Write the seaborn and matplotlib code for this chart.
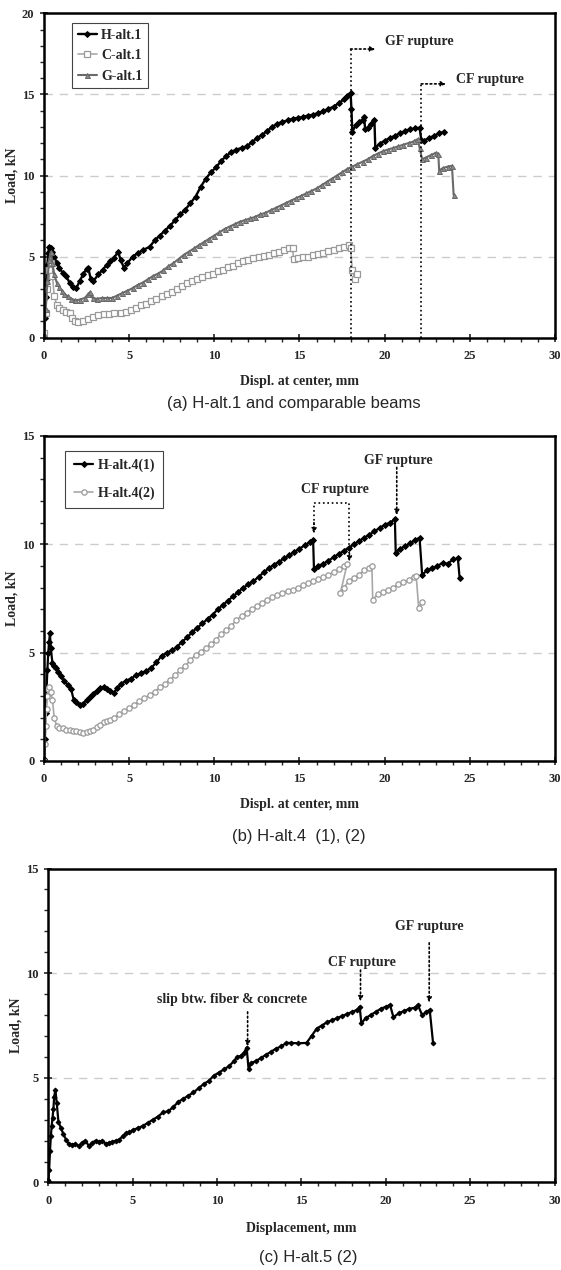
import matplotlib
matplotlib.use("Agg")
import matplotlib.pyplot as plt
from matplotlib.ticker import MultipleLocator
import seaborn as sns

# ---- data ----

# (a) H-alt.1 and comparable beams
ha1_x = [0, 0.05, 0.1, 0.15, 0.2, 0.25, 0.3, 0.4, 0.5, 0.6, 0.75, 0.9, 1.1, 1.3, 1.5, 1.7, 1.9,
         2.1, 2.3, 2.5, 2.6, 2.75, 2.9, 3.2, 3.45, 3.7, 3.9, 4.1, 4.35, 4.5, 4.7, 4.9, 5.2, 5.5,
         5.8, 6.2, 6.5, 6.8, 7.1, 7.4, 7.7, 8.0, 8.3, 8.6, 8.9, 9.2, 9.5, 9.8, 10.1, 10.4, 10.7,
         11.0, 11.3, 11.6, 11.9, 12.2, 12.5, 12.8, 13.1, 13.4, 13.7, 14.0, 14.3, 14.6, 14.9, 15.2,
         15.5, 15.8, 16.1, 16.4, 16.7, 17.0, 17.3, 17.6, 17.8, 18.0, 18.05, 18.1, 18.3, 18.5, 18.7,
         18.8, 18.85, 19.0, 19.2, 19.4, 19.45, 19.7, 20.0, 20.3, 20.6, 20.9, 21.2, 21.5, 21.8,
         22.05, 22.15, 22.3, 22.6, 22.9, 23.2, 23.5]
ha1_y = [0.3, 1.2, 2.5, 3.6, 4.5, 5.2, 5.6, 5.5, 5.3, 5.0, 4.6, 4.3, 4.0, 3.8, 3.4, 3.1, 3.05,
         3.5, 3.9, 4.25, 4.3, 3.6, 3.5, 3.9, 4.2, 4.5, 4.7, 4.9, 5.3, 4.8, 4.3, 4.6, 5.0, 5.2,
         5.4, 5.6, 6.0, 6.3, 6.6, 6.9, 7.25, 7.6, 7.9, 8.3, 8.7, 9.3, 9.8, 10.2, 10.5, 10.9, 11.2,
         11.45, 11.6, 11.7, 11.8, 12.05, 12.3, 12.5, 12.75, 13.0, 13.2, 13.3, 13.4, 13.5, 13.55, 13.6,
         13.7, 13.75, 13.85, 13.95, 14.1, 14.25, 14.45, 14.7, 14.9, 15.1, 14.1, 12.7, 13.1, 13.3, 13.45,
         13.6, 12.85, 12.95, 13.2, 13.4, 11.7, 11.95, 12.15, 12.3, 12.45, 12.6, 12.75, 12.85, 12.9,
         12.95, 12.2, 12.15, 12.3, 12.45, 12.6, 12.7]

ca1_x = [0, 0.1, 0.2, 0.3, 0.4, 0.5, 0.6, 0.75, 0.9, 1.1, 1.3, 1.5, 1.65, 1.8, 2.0, 2.3, 2.6, 2.9,
         3.2, 3.5, 3.8, 4.1, 4.5, 4.8, 5.1, 5.4, 5.7, 6.0, 6.3, 6.6, 6.9, 7.2, 7.5, 7.8, 8.1, 8.4,
         8.7, 9.0, 9.3, 9.6, 9.9, 10.2, 10.5, 10.8, 11.1, 11.4, 11.7, 12.0, 12.3, 12.6, 12.9, 13.2,
         13.5, 13.8, 14.1, 14.4, 14.6, 14.65, 14.9, 15.2, 15.5, 15.8, 16.1, 16.4, 16.7, 17.0, 17.3,
         17.6, 17.9, 18.0, 18.1, 18.25, 18.35]
ca1_y = [0.3, 1.5, 3.0, 4.2, 4.6, 3.8, 2.6, 2.0, 1.85, 1.7, 1.6, 1.55, 1.2, 1.05, 0.95, 1.05, 1.15, 1.3,
         1.4, 1.45, 1.45, 1.5, 1.55, 1.6, 1.7, 1.85, 2.0, 2.1, 2.25, 2.4, 2.55, 2.7, 2.8, 3.0, 3.2, 3.35,
         3.5, 3.6, 3.75, 3.85, 3.95, 4.1, 4.2, 4.35, 4.45, 4.6, 4.7, 4.8, 4.9, 5.0, 5.05, 5.1,
         5.2, 5.3, 5.4, 5.5, 5.55, 4.85, 4.9, 4.95, 5.0, 5.1, 5.15, 5.25, 5.35, 5.4, 5.5,
         5.6, 5.7, 5.5, 4.2, 3.6, 3.9]

ga1_x = [0, 0.1, 0.2, 0.3, 0.4, 0.5, 0.6, 0.75, 0.9, 1.05, 1.2, 1.4, 1.6, 1.85, 2.1, 2.4, 2.6, 2.7,
         2.85, 3.1, 3.4, 3.7, 4.0, 4.3, 4.6, 4.9, 5.2, 5.5, 5.8, 6.1, 6.4, 6.7, 7.0, 7.3, 7.6, 7.9,
         8.2, 8.5, 8.8, 9.1, 9.4, 9.7, 10.0, 10.3, 10.6, 10.9, 11.2, 11.5, 11.8, 12.1, 12.4, 12.7,
         13.0, 13.3, 13.6, 13.9, 14.2, 14.5, 14.8, 15.1, 15.4, 15.7, 16.0, 16.3, 16.6, 16.9, 17.2,
         17.5, 17.8, 18.1, 18.4, 18.7, 19.0, 19.3, 19.6, 19.9, 20.2, 20.5, 20.8, 21.1, 21.4, 21.7,
         21.95, 22.05, 22.2, 22.4, 22.7, 23.0, 23.15, 23.2, 23.4, 23.7, 23.95, 24.05]
ga1_y = [0.2, 1.8, 3.5, 4.8, 5.3, 4.6, 3.9, 3.4, 3.1, 2.9, 2.7, 2.55, 2.4, 2.3, 2.35, 2.45, 2.7, 2.8,
         2.45, 2.4, 2.45, 2.45, 2.45, 2.6, 2.75, 2.9, 3.05, 3.25, 3.4, 3.6, 3.8, 3.95, 4.15, 4.4, 4.6, 4.85,
         5.1, 5.3, 5.5, 5.7, 5.9, 6.1, 6.3, 6.5, 6.7, 6.85, 7.0, 7.15, 7.25, 7.35, 7.45, 7.6,
         7.7, 7.85, 8.0, 8.15, 8.3, 8.45, 8.6, 8.75, 8.9, 9.05, 9.2, 9.4, 9.6, 9.8, 10.0,
         10.2, 10.4, 10.55, 10.7, 10.85, 11.0, 11.2, 11.35, 11.5, 11.6, 11.7, 11.8, 11.9, 12.0, 12.1,
         12.25, 11.7, 11.0, 11.1, 11.25, 11.4, 11.3, 10.3, 10.45, 10.55, 10.6, 8.8]

# (b) H-alt.4 (1), (2)
h41_x = [0, 0.05, 0.1, 0.15, 0.2, 0.25, 0.3, 0.35, 0.4, 0.5, 0.6, 0.7, 0.85, 1.0, 1.2, 1.4, 1.6,
         1.75, 1.9, 2.1, 2.3, 2.5, 2.7, 2.9, 3.1, 3.3, 3.5, 3.7, 3.9, 4.1, 4.3, 4.5, 4.8, 5.1, 5.4,
         5.7, 6.0, 6.3, 6.6, 6.9, 7.2, 7.5, 7.8, 8.1, 8.4, 8.7, 9.0, 9.3, 9.6, 9.9, 10.2, 10.5,
         10.8, 11.1, 11.4, 11.7, 12.0, 12.3, 12.6, 12.9, 13.2, 13.5, 13.8, 14.1, 14.4, 14.7, 15.0,
         15.3, 15.6, 15.8, 15.85, 16.1, 16.4, 16.7, 17.0, 17.3, 17.6, 17.9, 18.2, 18.5, 18.8, 19.1,
         19.4, 19.7, 20.0, 20.3, 20.6, 20.65, 20.9, 21.2, 21.5, 21.8, 22.05, 22.2, 22.5, 22.8,
         23.1, 23.4, 23.7, 24.0, 24.3, 24.4]
h41_y = [0.1, 1.0, 2.2, 3.3, 4.2, 5.0, 5.5, 5.9, 5.2, 4.5, 4.4, 4.3, 4.1, 3.9, 3.7, 3.5, 3.3,
         2.8, 2.7, 2.6, 2.65, 2.8, 2.95, 3.1, 3.25, 3.35, 3.4, 3.3, 3.25, 3.15, 3.35, 3.55, 3.7, 3.8, 3.95,
         4.05, 4.15, 4.3, 4.55, 4.85, 5.0, 5.1, 5.25, 5.5, 5.7, 5.95, 6.15, 6.35, 6.55, 6.75, 7.0, 7.2,
         7.4, 7.6, 7.8, 8.0, 8.15, 8.3, 8.5, 8.7, 8.9, 9.05, 9.2, 9.35, 9.5, 9.65, 9.8,
         9.95, 10.1, 10.2, 8.85, 9.0, 9.1, 9.25, 9.4, 9.55, 9.7, 9.85, 10.0, 10.15, 10.3, 10.45,
         10.6, 10.75, 10.9, 11.0, 11.15, 9.6, 9.8, 9.9, 10.05, 10.2, 10.3, 8.6, 8.8, 8.9,
         9.0, 9.15, 9.1, 9.3, 9.35, 8.45]

h42_x = [0, 0.05, 0.1, 0.15, 0.2, 0.25, 0.3, 0.4, 0.5, 0.6, 0.75, 0.9, 1.1, 1.3, 1.5, 1.7, 1.9,
         2.1, 2.3, 2.5, 2.7, 2.9, 3.1, 3.3, 3.5, 3.7, 3.9, 4.1, 4.4, 4.7, 5.0, 5.3, 5.6, 5.9, 6.2,
         6.5, 6.8, 7.1, 7.4, 7.7, 8.0, 8.3, 8.6, 8.9, 9.2, 9.5, 9.8, 10.1, 10.4, 10.7, 11.0, 11.3,
         11.6, 11.9, 12.2, 12.5, 12.8, 13.1, 13.4, 13.7, 14.0, 14.3, 14.6, 14.9, 15.2, 15.5, 15.8,
         16.1, 16.4, 16.7, 17.0, 17.3, 17.6, 17.8, 17.4, 17.6, 17.9, 18.2, 18.5, 18.8, 19.1, 19.25,
         19.3, 19.6, 19.9, 20.2, 20.5, 20.8, 21.1, 21.4, 21.7, 21.85, 22.0, 22.2]
h42_y = [0.0, 0.8, 1.6, 2.4, 3.0, 3.3, 3.4, 3.2, 2.8, 2.0, 1.6, 1.5, 1.5, 1.45, 1.45, 1.4, 1.4,
         1.35, 1.3, 1.35, 1.4, 1.45, 1.55, 1.65, 1.8, 1.85, 1.9, 2.0, 2.15, 2.3, 2.45, 2.6, 2.75, 2.9, 3.05,
         3.2, 3.4, 3.55, 3.75, 3.95, 4.2, 4.4, 4.65, 4.9, 5.05, 5.2, 5.4, 5.6, 5.85, 6.05, 6.25, 6.5,
         6.7, 6.85, 7.0, 7.15, 7.3, 7.45, 7.55, 7.65, 7.75, 7.85, 7.9, 8.0, 8.1, 8.2, 8.3,
         8.4, 8.5, 8.6, 8.7, 8.85, 9.0, 9.1, 7.75, 8.0, 8.3, 8.45, 8.6, 8.8, 8.9, 9.0,
         7.45, 7.7, 7.8, 7.9, 8.0, 8.15, 8.25, 8.35, 8.5, 8.55, 7.05, 7.35]

# (c) H-alt.5 (2)
h52_x = [0, 0.05, 0.1, 0.15, 0.2, 0.25, 0.3, 0.35, 0.42, 0.5, 0.6, 0.75, 0.9, 1.05, 1.2, 1.4, 1.6,
         1.8, 2.0, 2.2, 2.4, 2.6, 2.8, 3.0, 3.2, 3.4, 3.6, 3.8, 4.0, 4.2, 4.4, 4.6, 4.8, 5.0, 5.3,
         5.6, 5.9, 6.2, 6.5, 6.8, 7.1, 7.4, 7.7, 8.0, 8.3, 8.6, 8.9, 9.2, 9.5, 9.8, 10.1, 10.4,
         10.7, 11.0, 11.2, 11.4, 11.6, 11.75, 11.87, 12.0, 12.3, 12.6, 12.9, 13.2, 13.5, 13.8, 14.1,
         14.4, 14.8, 15.3, 15.6, 15.9, 16.2, 16.5, 16.8, 17.1, 17.4, 17.7, 18.0, 18.3, 18.45, 18.55,
         18.8, 19.1, 19.4, 19.7, 20.0, 20.25, 20.45, 20.8, 21.1, 21.4, 21.7, 21.9, 22.15, 22.4,
         22.6, 22.8]
h52_y = [0.1, 0.6, 1.5, 2.2, 2.7, 3.1, 3.5, 4.1, 4.43, 3.8, 2.9, 2.6, 2.3, 2.05, 1.85, 1.8, 1.85,
         1.75, 1.9, 2.0, 1.75, 1.9, 2.0, 1.95, 2.0, 1.85, 1.9, 1.95, 2.0, 2.05, 2.2, 2.35, 2.4, 2.5, 2.6,
         2.7, 2.85, 3.0, 3.15, 3.35, 3.4, 3.6, 3.85, 4.0, 4.15, 4.3, 4.5, 4.7, 4.85, 5.1, 5.25, 5.4,
         5.55, 5.8, 6.0, 6.05, 6.2, 6.45, 5.4, 5.7, 5.8, 5.95, 6.1, 6.25, 6.4, 6.5, 6.67,
         6.67, 6.65, 6.67, 7.0, 7.35, 7.5, 7.65, 7.75, 7.85, 7.95, 8.05, 8.15, 8.25, 8.4, 7.6,
         7.85, 8.0, 8.15, 8.3, 8.4, 8.48, 7.9, 8.1, 8.2, 8.3, 8.35, 8.48, 8.0, 8.15,
         8.25, 6.65]


sns.set_style("ticks")
plt.rcParams['font.family'] = ['Liberation Serif', 'DejaVu Serif']
plt.rcParams['font.weight'] = 'bold'
plt.rcParams['axes.labelweight'] = 'bold'

fig = plt.figure(figsize=(5.61, 12.7), dpi=100)
ax_a = fig.add_axes([0.0784, 0.7341, 0.9109, 0.2554])
ax_b = fig.add_axes([0.0784, 0.4008, 0.9109, 0.2559])
ax_c = fig.add_axes([0.0861, 0.0689, 0.9025, 0.2472])

DOT = dict(color='black', linestyle=':', linewidth=1.2)


def style_axes(ax, ymax, xlabel):
    ax.set_xlim(0, 30)
    ax.set_ylim(0, ymax)
    ax.xaxis.set_major_locator(MultipleLocator(5))
    ax.xaxis.set_minor_locator(MultipleLocator(1))
    ax.yaxis.set_major_locator(MultipleLocator(5))
    ax.yaxis.set_minor_locator(MultipleLocator(1))
    ax.tick_params(which='major', direction='inout', length=6, width=1.2, labelsize=9, pad=6)
    ax.tick_params(axis='y', which='major', pad=4)
    ax.tick_params(which='minor', direction='out', length=3, width=1.0)
    for s in ax.spines.values():
        s.set_linewidth(1.8)
        s.set_color('black')
    ax.yaxis.grid(True, which='major', color='#cccccc', linestyle=(0, (6, 5)), linewidth=1.0)
    ax.set_axisbelow(True)
    ax.set_xlabel(xlabel, fontsize=10)
    ax.set_ylabel("Load, kN", fontsize=10)
    ax.xaxis.set_label_coords(0.5, -0.115)
    ax.yaxis.set_label_coords(-0.05, 0.5)


def arrow_down(ax, x, y0, y1):
    # dotted vertical arrow pointing down to a curve
    ax.annotate("", xy=(x, y1), xytext=(x, y0),
                arrowprops=dict(arrowstyle='-|>', linestyle=':', color='black',
                                lw=1.2, mutation_scale=7, shrinkA=0, shrinkB=0))


# ---------------- (a) ----------------
ax = ax_a
sns.lineplot(x=ha1_x, y=ha1_y, ax=ax, sort=False, estimator=None, color='black', lw=1.7,
             marker='D', markersize=3.0, markeredgecolor='black', label='H-alt.1')
sns.lineplot(x=ca1_x, y=ca1_y, ax=ax, sort=False, estimator=None, color='#a8a8a8', lw=1.2,
             marker='s', markersize=3.8, markerfacecolor='white', markeredgecolor='#999999',
             markeredgewidth=0.9, label='C-alt.1')
sns.lineplot(x=ga1_x, y=ga1_y, ax=ax, sort=False, estimator=None, color='#6a6a6a', lw=1.5,
             marker='^', markersize=3.6, markerfacecolor='#8a8a8a', markeredgecolor='#666666',
             markeredgewidth=0.7, label='G-alt.1')
style_axes(ax, 20, "Displ. at center, mm")

# GF rupture bracket
ax.plot([18.0, 18.0], [0, 17.8], **DOT)
ax.annotate("", xy=(19.45, 17.8), xytext=(18.0, 17.8),
            arrowprops=dict(arrowstyle='-|>', linestyle=':', color='black', lw=1.2,
                            mutation_scale=7, shrinkA=0, shrinkB=0))
ax.text(20.0, 18.25, "GF rupture", fontsize=10, fontweight='bold', va='center', ha='left')
# CF rupture bracket
ax.plot([22.15, 22.15], [0, 15.65], **DOT)
ax.annotate("", xy=(23.6, 15.65), xytext=(22.15, 15.65),
            arrowprops=dict(arrowstyle='-|>', linestyle=':', color='black', lw=1.2,
                            mutation_scale=7, shrinkA=0, shrinkB=0))
ax.text(24.2, 15.95, "CF rupture", fontsize=10, fontweight='bold', va='center', ha='left')

leg = ax.legend(loc='upper left', bbox_to_anchor=(0.055, 0.97), fontsize=10, frameon=True,
                fancybox=False, framealpha=1, edgecolor='#444444', handlelength=1.4,
                handletextpad=0.3, labelspacing=0.55, borderpad=0.4, borderaxespad=0)
leg.get_frame().set_linewidth(0.8)

# ---------------- (b) ----------------
ax = ax_b
sns.lineplot(x=h41_x, y=h41_y, ax=ax, sort=False, estimator=None, color='black', lw=1.6,
             marker='D', markersize=3.0, markeredgecolor='black', label='H-alt.4(1)')
sns.lineplot(x=h42_x, y=h42_y, ax=ax, sort=False, estimator=None, color='#a8a8a8', lw=1.2,
             marker='o', markersize=3.8, markerfacecolor='white', markeredgecolor='#999999',
             markeredgewidth=0.9, label='H-alt.4(2)')
style_axes(ax, 15, "Displ. at center, mm")

# CF rupture: bracket over both drops
ax.plot([15.85, 15.85, 17.93, 17.93], [10.9, 11.93, 11.93, 9.6], **DOT)
arrow_down(ax, 15.85, 11.0, 10.5)
arrow_down(ax, 17.93, 9.8, 9.2)
ax.text(17.1, 12.55, "CF rupture", fontsize=10, fontweight='bold', va='center', ha='center')
# GF rupture
arrow_down(ax, 20.71, 13.55, 11.35)
ax.text(20.8, 13.85, "GF rupture", fontsize=10, fontweight='bold', va='center', ha='center')

leg = ax.legend(loc='upper left', bbox_to_anchor=(0.042, 0.955), fontsize=10, frameon=True,
                fancybox=False, framealpha=1, edgecolor='#444444', handlelength=1.4,
                handletextpad=0.3, labelspacing=1.0, borderpad=0.6, borderaxespad=0)
leg.get_frame().set_linewidth(0.8)

# ---------------- (c) ----------------
ax = ax_c
sns.lineplot(x=h52_x, y=h52_y, ax=ax, sort=False, estimator=None, color='black', lw=1.6,
             marker='D', markersize=2.4, markeredgecolor='black', legend=False)
style_axes(ax, 15, "Displacement, mm")
ax.xaxis.set_label_coords(0.5, -0.125)

arrow_down(ax, 11.81, 8.15, 6.5)
ax.text(10.87, 8.73, "slip btw. fiber & concrete", fontsize=10, fontweight='bold',
        va='center', ha='center')
arrow_down(ax, 18.5, 10.15, 8.65)
ax.text(18.57, 10.5, "CF rupture", fontsize=10, fontweight='bold', va='center', ha='center')
arrow_down(ax, 22.57, 11.45, 8.6)
ax.text(22.57, 12.25, "GF rupture", fontsize=10, fontweight='bold', va='center', ha='center')

# captions under each panel
cap = dict(fontsize=12, fontweight='normal', family=['Liberation Sans', 'DejaVu Sans'],
           ha='center', va='center')
fig.text(0.524, 0.682, "(a) H-alt.1 and comparable beams", **cap)
fig.text(0.533, 0.341, "(b) H-alt.4  (1), (2)", **cap)
fig.text(0.55, 0.0102, "(c) H-alt.5 (2)", **cap)

fig.savefig("out.png", dpi=100)
